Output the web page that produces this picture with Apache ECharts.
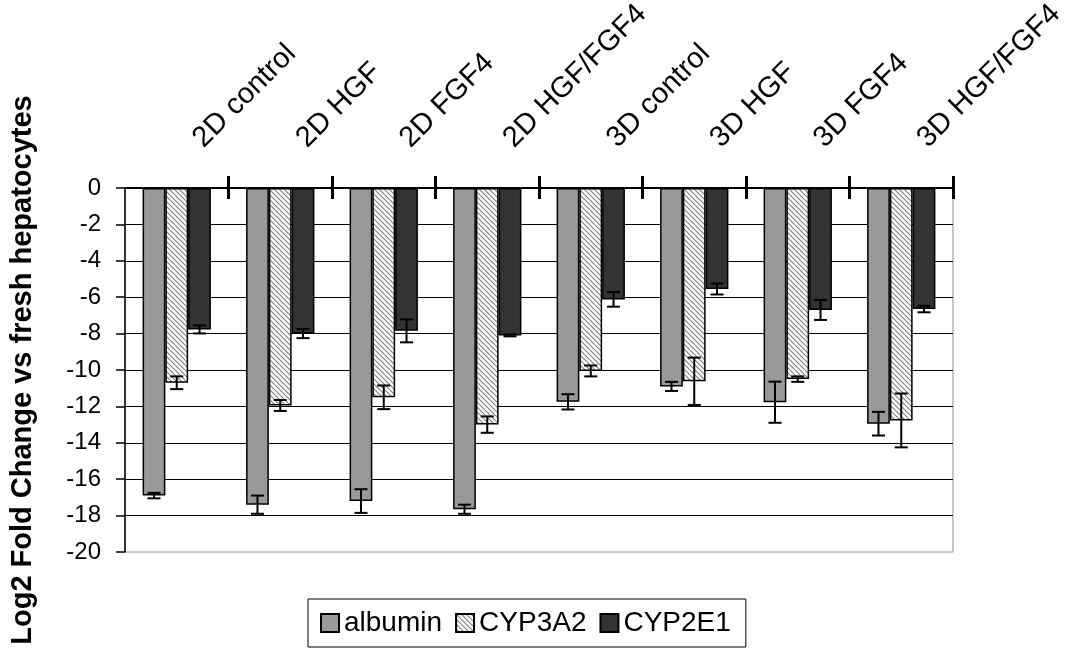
<!DOCTYPE html>
<html>
<head>
<meta charset="utf-8">
<style>
  html, body { margin: 0; padding: 0; background: #fff; }
  #chart { width: 1067px; height: 651px; }
</style>
<script src="https://cdn.jsdelivr.net/npm/echarts@6/dist/echarts.min.js"></script>
</head>
<body>
<div id="chart"></div>
<script>
// Culture conditions along the top axis
const categories = ['2D control', '2D HGF', '2D FGF4', '2D HGF/FGF4',
                    '3D control', '3D HGF', '3D FGF4', '3D HGF/FGF4'];

// Log2 fold change vs fresh hepatocytes, with error (±)
const albumin    = [-16.9, -17.4, -17.2, -17.65, -11.75, -10.9, -11.77, -12.95];
const albuminErr = [0.15, 0.5, 0.65, 0.25, 0.42, 0.25, 1.13, 0.65];
const cyp3a2     = [-10.7, -11.95, -11.5, -13.0, -10.05, -10.62, -10.5, -12.77];
const cyp3a2Err  = [0.35, 0.3, 0.65, 0.45, 0.3, 1.3, 0.15, 1.48];
const cyp2e1     = [-7.77, -8.0, -7.85, -8.1, -6.12, -5.55, -6.7, -6.65];
const cyp2e1Err  = [0.22, 0.25, 0.63, 0.05, 0.4, 0.3, 0.55, 0.18];

const seriesNames = ['albumin', 'CYP3A2', 'CYP2E1'];

const FONT = "'Liberation Sans', Arial, Helvetica, sans-serif";
const CAT_GAP = 0.34;   // fraction of each category left empty
const CAP = 13;         // error bar cap width in px

// Diagonal hatch fill for the CYP3A2 bars
function makeHatch() {
  const s = 5;
  const c = document.createElement('canvas');
  c.width = s; c.height = s;
  const ctx = c.getContext('2d');
  ctx.fillStyle = '#ffffff';
  ctx.fillRect(0, 0, s, s);
  ctx.strokeStyle = '#7a7a7a';
  ctx.lineWidth = 1.1;
  for (const off of [-s, 0, s]) {
    ctx.beginPath();
    ctx.moveTo(off, 0);
    ctx.lineTo(off + s, s);
    ctx.stroke();
  }
  return c;
}

function errorData(values, errs) {
  return values.map((v, i) => [i, v, errs[i]]);
}

// Error bar centred on bar number `slot` (0..2) within each category
function errorRenderer(slot) {
  return function (params, api) {
    const idx = api.value(0);
    const val = api.value(1);
    const err = api.value(2);
    const band = api.size([1, 0])[0];
    const barW = band * (1 - CAT_GAP) / 3;
    const base = api.coord([idx, val]);
    const x = base[0] + (slot - 1) * barW;
    const yTop = api.coord([idx, val + err])[1];
    const yBot = api.coord([idx, val - err])[1];
    const h = CAP / 2;
    const style = { stroke: '#000', lineWidth: 2 };
    return {
      type: 'group',
      children: [
        { type: 'line', shape: { x1: x, y1: yTop, x2: x, y2: yBot }, style: style },
        { type: 'line', shape: { x1: x - h, y1: yTop, x2: x + h, y2: yTop }, style: style },
        { type: 'line', shape: { x1: x - h, y1: yBot, x2: x + h, y2: yBot }, style: style }
      ]
    };
  };
}

const barBorder = { borderColor: '#000', borderWidth: 1.5 };
const tickEvery = (i) => i > 0;

const chart = echarts.init(document.getElementById('chart'), null, { renderer: 'canvas' });

chart.setOption({
  animation: false,
  backgroundColor: '#fff',
  textStyle: { fontFamily: FONT },
  grid: {
    left: 125, right: 114, top: 188, bottom: 99,
    containLabel: false,
    outerBoundsMode: 'none',
    show: true, borderColor: '#8c8c8c', borderWidth: 1
  },
  legend: {
    data: seriesNames,
    left: 308, top: 599,
    icon: 'rect',
    itemWidth: 18, itemHeight: 18, itemGap: 13,
    padding: [10, 15, 10, 12],
    borderColor: '#000', borderWidth: 1, borderRadius: 0,
    textStyle: { fontSize: 28, color: '#000', fontFamily: FONT }
  },
  xAxis: [
    {
      type: 'category',
      data: categories,
      position: 'top',
      axisLine: { onZero: false, lineStyle: { color: '#000', width: 2 } },
      axisTick: { show: true, inside: false, length: 12, interval: tickEvery,
                  lineStyle: { color: '#000', width: 3 } },
      axisLabel: { interval: 0, rotate: -45, margin: 24, padding: [0, 0, 0, 30],
                   fontSize: 29, color: '#000', fontFamily: FONT },
      splitLine: { show: false }
    },
    {
      type: 'category',
      data: categories,
      position: 'top',
      axisLine: { show: false, onZero: false },
      axisTick: { show: true, inside: true, length: 11, interval: tickEvery,
                  lineStyle: { color: '#000', width: 3 } },
      axisLabel: { show: false },
      splitLine: { show: false }
    }
  ],
  yAxis: {
    type: 'value',
    min: -20, max: 0, interval: 2,
    name: 'Log2 Fold Change vs fresh hepatocytes',
    nameLocation: 'middle',
    nameRotate: 90,
    nameGap: 88,
    nameTextStyle: { fontSize: 29, fontWeight: 'bold', color: '#000', fontFamily: FONT },
    axisLine: { show: true, lineStyle: { color: '#000', width: 1.5 } },
    axisTick: { show: true, length: 9, lineStyle: { color: '#000', width: 1.5 } },
    axisLabel: { fontSize: 24, color: '#000', margin: 24, fontFamily: FONT },
    splitLine: { show: true, showMinLine: false, lineStyle: { color: '#000', width: 1.2 } }
  },
  series: [
    {
      name: 'albumin', type: 'bar', data: albumin,
      barGap: '0%', barCategoryGap: (CAT_GAP * 100) + '%',
      itemStyle: Object.assign({ color: '#999999' }, barBorder)
    },
    {
      name: 'CYP3A2', type: 'bar', data: cyp3a2,
      barGap: '0%', barCategoryGap: (CAT_GAP * 100) + '%',
      itemStyle: Object.assign({ color: { image: makeHatch(), repeat: 'repeat' } }, barBorder)
    },
    {
      name: 'CYP2E1', type: 'bar', data: cyp2e1,
      barGap: '0%', barCategoryGap: (CAT_GAP * 100) + '%',
      itemStyle: Object.assign({ color: '#333333' }, barBorder)
    },
    {
      name: 'albumin error', type: 'custom', z: 5,
      renderItem: errorRenderer(0),
      encode: { x: 0, y: 1 },
      data: errorData(albumin, albuminErr)
    },
    {
      name: 'CYP3A2 error', type: 'custom', z: 5,
      renderItem: errorRenderer(1),
      encode: { x: 0, y: 1 },
      data: errorData(cyp3a2, cyp3a2Err)
    },
    {
      name: 'CYP2E1 error', type: 'custom', z: 5,
      renderItem: errorRenderer(2),
      encode: { x: 0, y: 1 },
      data: errorData(cyp2e1, cyp2e1Err)
    }
  ]
});
</script>
</body>
</html>
